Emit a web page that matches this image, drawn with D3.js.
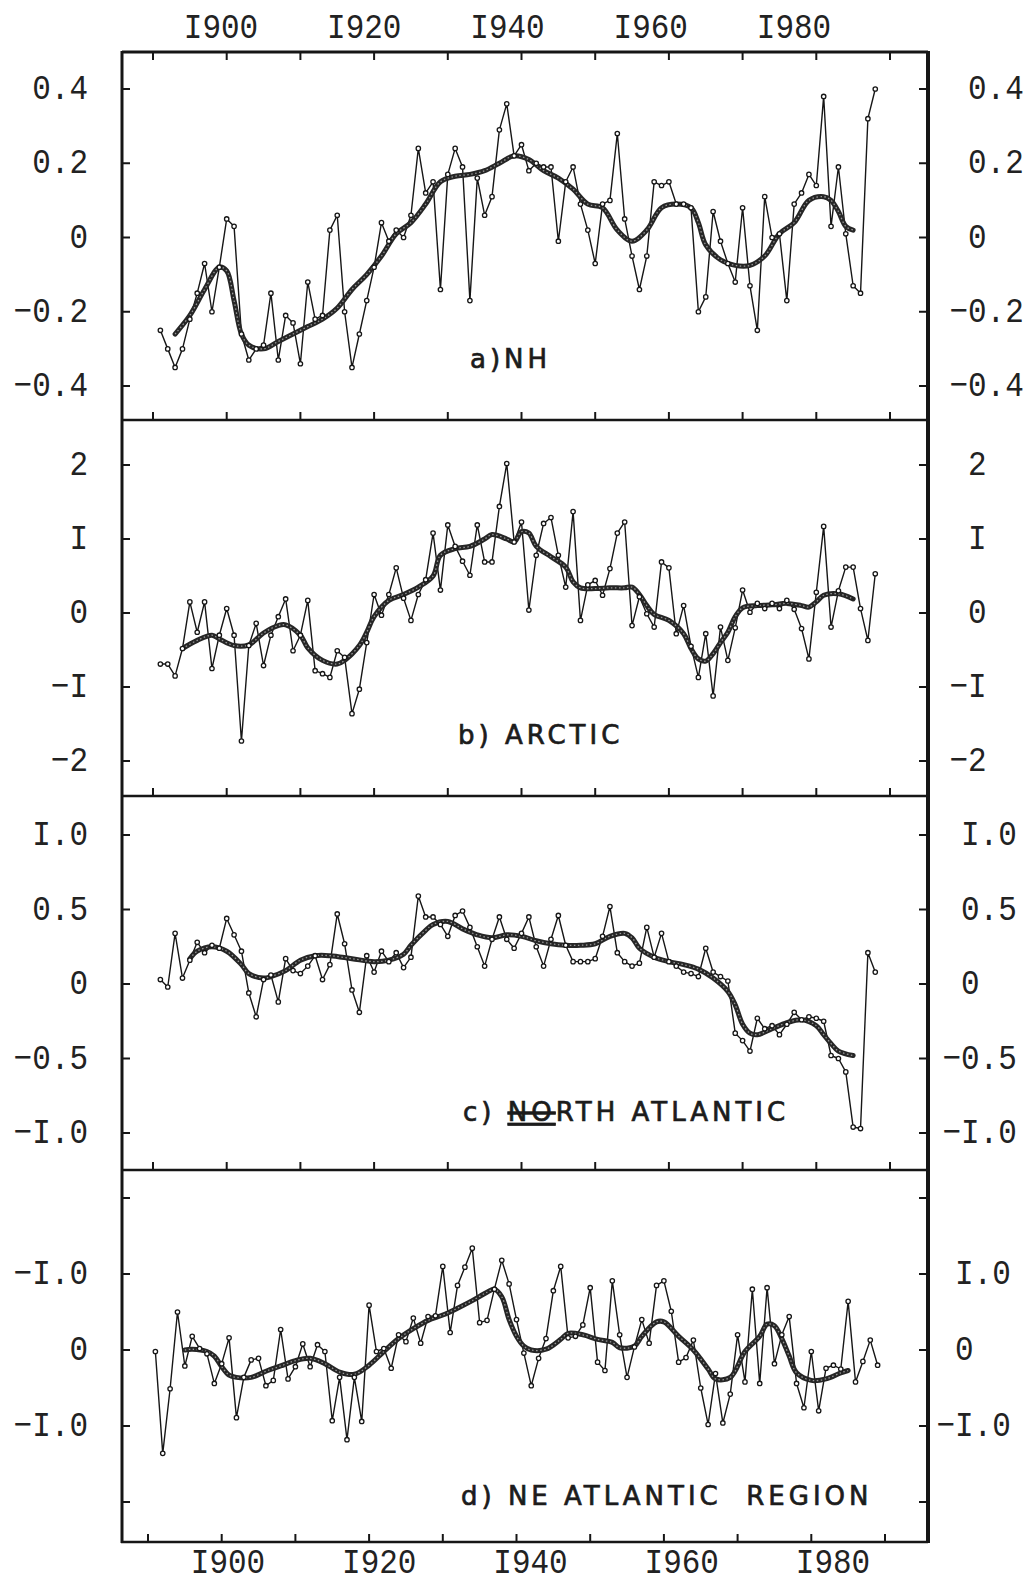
<!DOCTYPE html>
<html><head><meta charset="utf-8">
<script src="https://cdn.jsdelivr.net/npm/d3@7"></script>
<style>
html,body{margin:0;padding:0;background:#fff;}
svg{display:block;}
</style></head><body>
<svg id="chart" width="1032" height="1586"></svg>
<script>
// ---------------- DATA ----------------
const decadeTicks = [1890,1900,1910,1920,1930,1940,1950,1960,1970,1980,1990];
const yearLabelYears = [1900,1920,1940,1960,1980];
const yearLabelTexts = ["I900","I920","I940","I960","I980"];

const titles = ["a)NH", "b) ARCTIC", "c) NORTH ATLANTIC", "d) NE ATLANTIC  REGION"];

// a) NH
const nhStart = 1891;
const nhRaw = [-0.25,-0.30,-0.35,-0.30,-0.22,-0.15,-0.07,-0.20,-0.08,0.05,
 0.03,-0.26,-0.33,-0.30,-0.29,-0.15,-0.33,-0.21,-0.23,-0.34,
 -0.12,-0.22,-0.21,0.02,0.06,-0.20,-0.35,-0.26,-0.17,-0.08,
 0.04,-0.01,0.02,0.00,0.06,0.24,0.12,0.15,-0.14,0.17,
 0.24,0.19,-0.17,0.16,0.06,0.11,0.29,0.36,0.22,0.25,
 0.18,0.20,0.19,0.19,-0.01,0.15,0.19,0.09,0.02,-0.07,
 0.09,0.10,0.28,0.05,-0.05,-0.14,-0.05,0.15,0.14,0.15,
 0.09,0.09,0.08,-0.20,-0.16,0.07,-0.01,-0.07,-0.12,0.08,
 -0.13,-0.25,0.11,0.00,0.01,-0.17,0.09,0.12,0.17,0.14,
 0.38,0.03,0.19,0.01,-0.13,-0.15,0.32,0.40];
const nhSmoothYears = [1893,1895,1897,1899,1900,1901,1902,1903,1905,1907,1909,1911,1913,1915,1917,1919,1921,1923,1925,1927,1929,1931,1933,1935,1937,1939,1941,1943,1945,1947,1949,1951,1953,1955,1957,1959,1961,1963,1964,1965,1967,1969,1971,1973,1975,1977,1979,1981,1982,1983,1984,1985];
const nhSmoothValues = [-0.26,-0.21,-0.14,-0.08,-0.09,-0.17,-0.26,-0.29,-0.30,-0.28,-0.26,-0.24,-0.22,-0.19,-0.14,-0.10,-0.05,0.01,0.04,0.09,0.15,0.165,0.17,0.18,0.20,0.22,0.21,0.18,0.16,0.13,0.09,0.08,0.02,-0.01,0.02,0.08,0.09,0.08,0.04,-0.02,-0.06,-0.075,-0.075,-0.05,0.01,0.04,0.10,0.11,0.10,0.07,0.03,0.02];
const nhTicks = [0.4,0.2,0,-0.2,-0.4];
const nhLeftLabels = ["0.4","0.2","0","\u22120.2","\u22120.4"];
const nhRightLabels = ["0.4","0.2","0","\u22120.2","\u22120.4"];

// b) ARCTIC
const arStart = 1891;
const arRaw = [-0.69,-0.69,-0.85,-0.48,0.15,-0.26,0.15,-0.75,-0.30,0.06,
 -0.30,-1.73,-0.44,-0.14,-0.71,-0.30,-0.05,0.19,-0.51,-0.30,
 0.17,-0.78,-0.82,-0.87,-0.51,-0.60,-1.36,-1.03,-0.40,0.25,
 -0.03,0.25,0.61,0.20,-0.10,0.25,0.45,1.08,0.31,1.19,
 0.90,0.70,0.51,1.19,0.69,0.69,1.44,2.02,0.96,1.23,
 0.04,0.78,1.21,1.29,0.78,0.35,1.37,-0.10,0.38,0.44,
 0.24,0.60,1.08,1.23,-0.17,0.22,-0.01,-0.19,0.69,0.61,
 -0.28,0.10,-0.45,-0.87,-0.28,-1.12,-0.19,-0.64,-0.20,0.31,
 0.01,0.13,0.06,0.13,0.06,0.17,0.05,-0.21,-0.62,0.28,
 1.17,-0.19,0.30,0.62,0.62,0.06,-0.37,0.53];
const arSmoothYears = [1894,1896,1898,1899,1901,1903,1905,1907,1908,1910,1911,1913,1915,1916,1918,1919,1920,1922,1924,1926,1928,1929,1931,1933,1935,1936,1938,1939,1940,1941,1942,1944,1946,1947,1948,1950,1952,1954,1955,1956,1957,1958,1960,1962,1963,1964,1965,1966,1967,1968,1969,1970,1972,1974,1976,1978,1979,1980,1981,1983,1985];
const arSmoothValues = [-0.48,-0.37,-0.30,-0.35,-0.44,-0.43,-0.27,-0.17,-0.16,-0.30,-0.47,-0.64,-0.69,-0.64,-0.44,-0.26,-0.05,0.17,0.25,0.35,0.50,0.78,0.87,0.90,1.00,1.06,1.00,0.96,1.10,1.08,0.90,0.76,0.62,0.42,0.34,0.33,0.34,0.34,0.35,0.25,0.10,-0.02,-0.10,-0.28,-0.48,-0.62,-0.65,-0.55,-0.40,-0.26,-0.05,0.07,0.10,0.11,0.13,0.10,0.08,0.15,0.24,0.26,0.19];
const arTicks = [2,1,0,-1,-2];
const arLeftLabels = ["2","I","0","\u2212I","\u22122"];
const arRightLabels = ["2","I","0","\u2212I","\u22122"];

// c) NORTH ATLANTIC
const naStart = 1891;
const naRaw = [0.03,-0.02,0.34,0.04,0.16,0.28,0.21,0.26,0.24,0.44,
 0.33,0.22,-0.06,-0.22,0.03,0.06,-0.12,0.17,0.09,0.07,
 0.12,0.19,0.03,0.13,0.47,0.27,-0.04,-0.19,0.19,0.08,
 0.22,0.15,0.21,0.11,0.18,0.59,0.45,0.45,0.40,0.32,
 0.46,0.49,0.38,0.25,0.12,0.30,0.45,0.30,0.24,0.34,
 0.45,0.25,0.12,0.30,0.46,0.26,0.15,0.15,0.15,0.17,
 0.32,0.52,0.21,0.15,0.12,0.14,0.38,0.18,0.34,0.15,
 0.12,0.08,0.07,0.05,0.24,0.08,0.05,0.02,-0.33,-0.38,
 -0.45,-0.23,-0.30,-0.28,-0.34,-0.27,-0.19,-0.24,-0.22,-0.23,
 -0.25,-0.48,-0.50,-0.59,-0.96,-0.97,0.21,0.08];
const naSmoothYears = [1895,1896,1898,1900,1902,1903,1905,1906,1908,1910,1912,1914,1917,1920,1922,1924,1925,1927,1928,1930,1932,1934,1936,1938,1940,1942,1944,1946,1948,1950,1952,1954,1955,1956,1958,1960,1962,1964,1966,1968,1969,1970,1971,1972,1974,1976,1978,1980,1981,1982,1983,1985];
const naSmoothValues = [0.17,0.22,0.25,0.22,0.13,0.07,0.04,0.05,0.09,0.16,0.19,0.19,0.17,0.15,0.16,0.20,0.26,0.36,0.40,0.42,0.37,0.33,0.31,0.33,0.32,0.29,0.27,0.26,0.26,0.27,0.32,0.34,0.31,0.24,0.18,0.15,0.13,0.10,0.04,-0.05,-0.14,-0.27,-0.33,-0.34,-0.30,-0.26,-0.24,-0.28,-0.34,-0.40,-0.45,-0.48];
const naTicks = [1,0.5,0,-0.5,-1];
const naLeftLabels = ["I.0","0.5","0","\u22120.5","\u2212I.0"];
const naRightLabels = ["I.0","0.5","0","\u22120.5","\u2212I.0"];

// d) NE ATLANTIC REGION
const neStart = 1891;
const neRaw = [-0.02,-1.36,-0.51,0.50,-0.21,0.18,0.02,-0.05,-0.44,-0.18,
 0.16,-0.89,-0.36,-0.13,-0.11,-0.47,-0.40,0.27,-0.38,-0.22,
 0.08,-0.22,0.07,-0.02,-0.93,-0.36,-1.18,-0.36,-0.94,0.59,
 -0.02,0.02,-0.24,0.20,0.11,0.42,0.09,0.44,0.45,1.10,
 0.23,0.85,1.09,1.34,0.36,0.39,0.80,1.18,0.87,0.40,
 -0.04,-0.47,-0.11,0.15,0.78,1.10,0.16,0.18,0.33,0.82,
 -0.16,-0.27,0.91,0.20,-0.36,0.04,0.40,0.09,0.85,0.91,
 0.51,-0.16,-0.10,0.13,-0.50,-0.98,-0.31,-0.96,-0.58,0.20,
 -0.42,0.80,-0.44,0.82,-0.18,0.20,0.44,-0.44,-0.76,-0.02,
 -0.80,-0.24,-0.20,-0.25,0.64,-0.42,-0.15,0.13,-0.20];
const neSmoothYears = [1895,1896,1898,1899,1900,1901,1902,1904,1906,1908,1910,1912,1914,1916,1918,1920,1922,1924,1926,1928,1930,1932,1934,1936,1937,1938,1939,1940,1941,1942,1944,1946,1947,1949,1951,1953,1954,1956,1957,1959,1960,1962,1964,1966,1967,1969,1971,1973,1974,1975,1976,1977,1978,1980,1982,1984,1985];
const neSmoothValues = [0.0,0.01,-0.02,-0.08,-0.22,-0.33,-0.36,-0.36,-0.28,-0.21,-0.14,-0.11,-0.18,-0.29,-0.32,-0.20,-0.02,0.15,0.28,0.39,0.46,0.55,0.65,0.76,0.80,0.70,0.40,0.18,0.05,0.0,0.01,0.14,0.22,0.20,0.14,0.10,0.03,0.05,0.18,0.37,0.37,0.18,0.00,-0.25,-0.38,-0.36,-0.02,0.18,0.34,0.32,0.15,-0.08,-0.30,-0.40,-0.38,-0.30,-0.27];
const neTicks = [2,1,0,-1,-2];
const neLeftLabels = ["","\u2212I.0","0","\u2212I.0",""];
const neRightLabels = ["","I.0","0","\u2212I.0",""];

// ---------------- LAYOUT ----------------
const ink = "#161616";
const frameL = 122, frameR = 928, frameTop = 52;
const panelBottoms = [420, 796, 1170, 1542];
const typeFont = "'Liberation Mono','DejaVu Sans Mono',monospace";
const fs = 31, charW = fs * 0.6, yStretch = 1.15;

const xTop = d3.scaleLinear().domain([1890,1990]).range([153,890]);
const xBot = d3.scaleLinear().domain([1890,1990]).range([148,885]);
const topLabelX = d3.scaleLinear().domain([1900,1980]).range([221,794]);
const botLabelX = d3.scaleLinear().domain([1900,1980]).range([228,833]);

const panels = [
 {start:nhStart, raw:nhRaw, sy:nhSmoothYears, sv:nhSmoothValues, dom:[-0.4,0.4], rng:[386,89], ticks:nhTicks, L:nhLeftLabels, R:nhRightLabels, x:xTop, title:titles[0], tx:470, ty:368, rx:968},
 {start:arStart, raw:arRaw, sy:arSmoothYears, sv:arSmoothValues, dom:[-2,2], rng:[761,465], ticks:arTicks, L:arLeftLabels, R:arRightLabels, x:xTop, title:titles[1], tx:458, ty:744, rx:968},
 {start:naStart, raw:naRaw, sy:naSmoothYears, sv:naSmoothValues, dom:[-1,1], rng:[1133,835], ticks:naTicks, L:naLeftLabels, R:naRightLabels, x:xTop, title:titles[2], tx:463, ty:1121, rx:961},
 {start:neStart, raw:neRaw, sy:neSmoothYears, sv:neSmoothValues, dom:[-2,2], rng:[1502,1198], ticks:neTicks, L:neLeftLabels, R:neRightLabels, x:xBot, title:titles[3], tx:461, ty:1505, rx:955}
];

const svg = d3.select("#chart");
svg.append("rect").attr("width",1032).attr("height",1586).attr("fill","#fff");

// frame
const g = svg.append("g");
g.append("line").attr("x1",frameL).attr("x2",frameR).attr("y1",frameTop).attr("y2",frameTop).attr("stroke",ink).attr("stroke-width",3);
panelBottoms.forEach(b=>{
  g.append("line").attr("x1",frameL-1).attr("x2",frameR).attr("y1",b).attr("y2",b).attr("stroke",ink).attr("stroke-width",2.6);
});
g.append("line").attr("x1",frameL).attr("x2",frameL).attr("y1",frameTop-1).attr("y2",panelBottoms[3]+1).attr("stroke",ink).attr("stroke-width",3);
g.append("line").attr("x1",frameR).attr("x2",frameR).attr("y1",frameTop-1).attr("y2",panelBottoms[3]+1).attr("stroke",ink).attr("stroke-width",4);

// top ticks of panel a (pointing down)
g.selectAll(".tt").data(decadeTicks).enter().append("line")
  .attr("x1",d=>xTop(d)).attr("x2",d=>xTop(d)).attr("y1",frameTop).attr("y2",frameTop+8)
  .attr("stroke",ink).attr("stroke-width",2);

// year labels
function yearLabels(sc, baseline){
  yearLabelYears.forEach((yr,i)=>{
    svg.append("g").attr("transform",`translate(${sc(yr)},${baseline}) scale(1,${yStretch})`)
      .append("text").attr("text-anchor","middle").attr("font-family",typeFont)
      .attr("font-size",fs).attr("fill","#222").text(yearLabelTexts[i]);
  });
}
yearLabels(topLabelX, 38);
yearLabels(botLabelX, 1573);

const lineFont = "'DejaVu Sans',sans-serif";

panels.forEach((p,pi)=>{
  const y = d3.scaleLinear().domain(p.dom).range(p.rng);
  const bottom = panelBottoms[pi];
  // bottom ticks (pointing up)
  svg.append("g").selectAll("line").data(decadeTicks).enter().append("line")
    .attr("x1",d=>p.x(d)).attr("x2",d=>p.x(d)).attr("y1",bottom).attr("y2",bottom-8)
    .attr("stroke",ink).attr("stroke-width",2);
  // y ticks left / right
  const yt = svg.append("g");
  yt.selectAll(".l").data(p.ticks).enter().append("line")
    .attr("x1",frameL).attr("x2",frameL+8).attr("y1",d=>y(d)).attr("y2",d=>y(d))
    .attr("stroke",ink).attr("stroke-width",2);
  yt.selectAll(".r").data(p.ticks).enter().append("line")
    .attr("x1",frameR-9).attr("x2",frameR).attr("y1",d=>y(d)).attr("y2",d=>y(d))
    .attr("stroke",ink).attr("stroke-width",2);
  // labels
  p.ticks.forEach((t,i)=>{
    const yy = y(t) + 10;
    if (p.L[i]) {
      svg.append("g").attr("transform",`translate(88,${yy}) scale(1,${yStretch})`)
        .append("text").attr("text-anchor","end").attr("font-family",typeFont)
        .attr("font-size",fs).attr("fill","#222").text(p.L[i]);
    }
    if (p.R[i]) {
      const lab = p.R[i];
      const xx = lab.startsWith("\u2212") ? p.rx - charW : p.rx;
      svg.append("g").attr("transform",`translate(${xx},${yy}) scale(1,${yStretch})`)
        .append("text").attr("text-anchor","start").attr("font-family",typeFont)
        .attr("font-size",fs).attr("fill","#222").text(lab);
    }
  });

  // raw series
  const rawData = p.raw.map((v,i)=>({year:p.start+i, v}));
  const rawLine = d3.line().x(d=>p.x(d.year)).y(d=>y(d.v));
  svg.append("path").datum(rawData).attr("d",rawLine).attr("fill","none")
    .attr("stroke",ink).attr("stroke-width",1.4).attr("stroke-linejoin","round");

  // smooth series
  const smData = p.sy.map((yr,i)=>({year:yr, v:p.sv[i]}));
  const smLine = d3.line().x(d=>p.x(d.year)).y(d=>y(d.v)).curve(d3.curveCatmullRom.alpha(0.5));
  svg.append("path").datum(smData).attr("d",smLine).attr("fill","none")
    .attr("stroke","#262626").attr("stroke-width",5).attr("stroke-linecap","round").attr("stroke-linejoin","round");
  svg.append("path").datum(smData).attr("d",smLine).attr("fill","none")
    .attr("stroke","#9a9a9a").attr("stroke-width",1.3).attr("stroke-dasharray","1.5,2.5");

  // raw markers
  svg.append("g").selectAll("circle").data(rawData).enter().append("circle")
    .attr("cx",d=>p.x(d.year)).attr("cy",d=>y(d.v)).attr("r",2.2)
    .attr("fill","#fff").attr("stroke",ink).attr("stroke-width",1.3);

  // title
  const t = svg.append("text").attr("x",p.tx).attr("y",p.ty)
    .attr("font-family",lineFont).attr("font-size",26).attr("letter-spacing",4)
    .attr("fill","#1c1c1c").attr("stroke","#1c1c1c").attr("stroke-width",0.7)
    .style("white-space","pre");
  if (pi === 2) {
    t.append("tspan").text("c) ");
    t.append("tspan").style("text-decoration","underline line-through").text("NO");
    t.append("tspan").text("RTH ATLANTIC");
  } else {
    t.text(p.title);
  }
});
</script>
</body></html>
